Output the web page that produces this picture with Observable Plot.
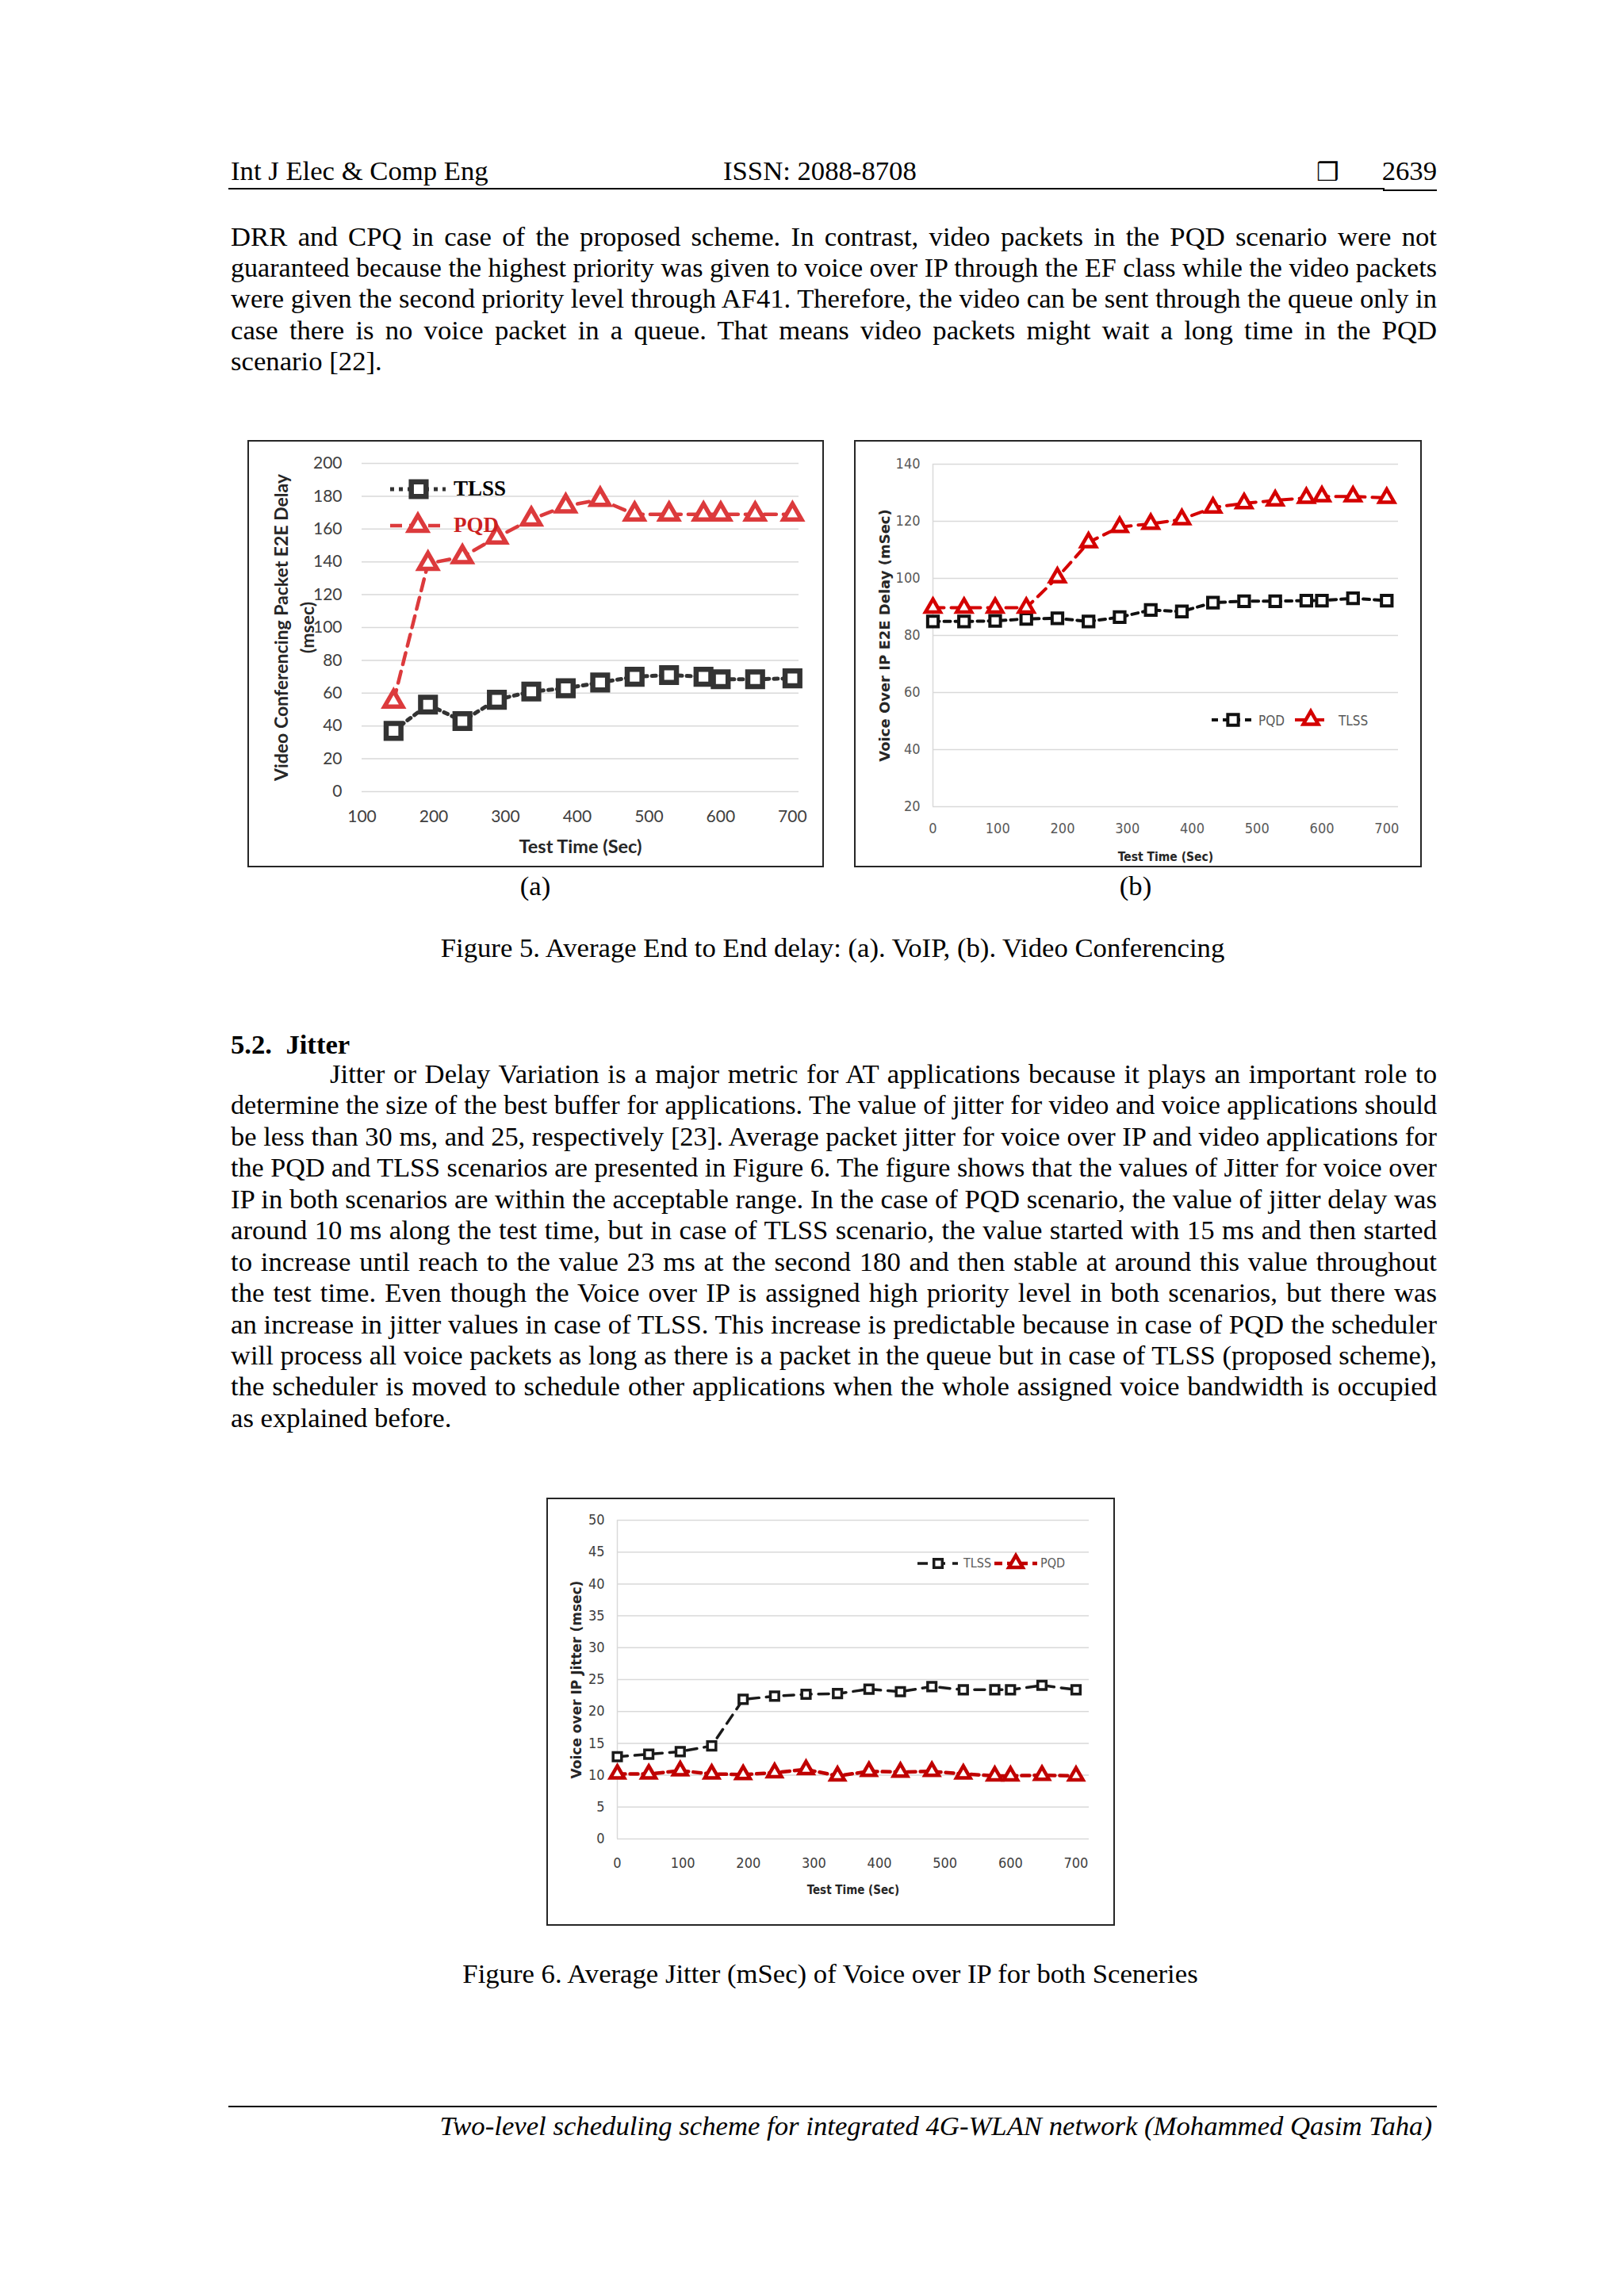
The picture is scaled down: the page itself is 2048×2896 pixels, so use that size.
<!DOCTYPE html>
<html>
<head>
<meta charset="utf-8">
<script src="https://cdn.jsdelivr.net/npm/d3@7"></script>
<script src="https://cdn.jsdelivr.net/npm/@observablehq/plot@0.6"></script>
<style>
  html, body { margin: 0; padding: 0; background: #ffffff; }
  #page { position: relative; width: 2048px; height: 2896px; background: #ffffff; overflow: hidden; }
  .box { position: absolute; box-sizing: border-box; border: 2.5px solid #262626; }
</style>
</head>
<body>
<div id="page"></div>
<script>
// ---------------- DATA ----------------
// Figure 5 (a): Video conferencing packet E2E delay (msec)
const timeA = [144, 192, 240, 288, 336, 384, 432, 480, 528, 576, 600, 648, 700];
const tlssA = [37, 53, 43, 56, 61, 63, 66.5, 70, 71, 70, 68.5, 68.5, 69];
const pqdA  = [55, 139, 143, 155, 166, 174, 178, 169, 169, 169, 169, 169, 169];
const xTicksA = [100, 200, 300, 400, 500, 600, 700];
const yTicksA = [0, 20, 40, 60, 80, 100, 120, 140, 160, 180, 200];

// Figure 5 (b): Voice over IP E2E delay (mSec)
const timeB = [0, 48, 96, 144, 192, 240, 288, 336, 384, 432, 480, 528, 576, 600, 648, 700];
const pqdB  = [84.9, 84.9, 85.1, 85.8, 86, 84.9, 86.4, 88.9, 88.4, 91.5, 92, 92, 92.2, 92.2, 93, 92.2];
const tlssB = [89.7, 89.7, 89.7, 89.7, 100.3, 112.6, 118, 119.1, 120.7, 124.8, 126.3, 127.3, 128.2, 128.7, 128.7, 128.2];
const xTicksB = [0, 100, 200, 300, 400, 500, 600, 700];
const yTicksB = [20, 40, 60, 80, 100, 120, 140];

// Figure 6: Voice over IP jitter (msec)
const time6 = [0, 48, 96, 144, 192, 240, 288, 336, 384, 432, 480, 528, 576, 600, 648, 700];
const tlss6 = [12.9, 13.3, 13.7, 14.6, 21.9, 22.4, 22.7, 22.8, 23.5, 23.1, 23.9, 23.4, 23.4, 23.4, 24.1, 23.4];
const pqd6  = [10.2, 10.2, 10.7, 10.2, 10.1, 10.4, 10.9, 9.9, 10.6, 10.5, 10.6, 10.2, 9.9, 9.9, 10.0, 9.9];
const xTicks6 = [0, 100, 200, 300, 400, 500, 600, 700];
const yTicks6 = [0, 5, 10, 15, 20, 25, 30, 35, 40, 45, 50];

// ---------------- TEXT ----------------
const headerLeft = "Int J Elec & Comp Eng";
const headerMid = "ISSN: 2088-8708";
const headerPage = "2639";
const para1 = [
  "DRR and CPQ in case of the proposed scheme. In contrast, video packets in the PQD scenario were not",
  "guaranteed because the highest priority was given to voice over IP through the EF class while the video packets",
  "were given the second priority level through AF41. Therefore, the video can be sent through the queue only in",
  "case there is no voice packet in a queue. That means video packets might wait a long time in the PQD",
  "scenario [22]."
];
const fig5Caption = "Figure 5. Average End to End delay: (a). VoIP, (b). Video Conferencing";
const heading = "5.2.  Jitter";
const para2 = [
  "Jitter or Delay Variation is a major metric for AT applications because it plays an important role to",
  "determine the size of the best buffer for applications. The value of jitter for video and voice applications should",
  "be less than 30 ms, and 25, respectively [23]. Average packet jitter for voice over IP and video applications for",
  "the PQD and TLSS scenarios are presented in Figure 6. The figure shows that the values of Jitter for voice over",
  "IP in both scenarios are within the acceptable range. In the case of PQD scenario, the value of jitter delay was",
  "around 10 ms along the test time, but in case of TLSS scenario, the value started with 15 ms and then started",
  "to increase until reach to the value 23 ms at the second 180 and then stable at around this value throughout",
  "the test time. Even though the Voice over IP is assigned high priority level in both scenarios, but there was",
  "an increase in jitter values in case of TLSS. This increase is predictable because in case of PQD the scheduler",
  "will process all voice packets as long as there is a packet in the queue but in case of TLSS (proposed scheme),",
  "the scheduler is moved to schedule other applications when the whole assigned voice bandwidth is occupied",
  "as explained before."
];
const fig6Caption = "Figure 6. Average Jitter (mSec) of Voice over IP for both Sceneries";
const footer = "Two-level scheduling scheme for integrated 4G-WLAN network (Mohammed Qasim Taha)";

// ---------------- HELPERS ----------------
const page = document.getElementById("page");
const SERIF = '"Liberation Serif", "Times New Roman", serif';
const NARROW = '"Liberation Sans Narrow", "Arial Narrow", "DejaVu Sans Condensed", "Roboto Condensed", sans-serif';
const FS = 34.7;

function addText(s, o) {
  const d = document.createElement("div");
  d.textContent = s;
  const size = o.size || FS;
  const asc = o.asc ?? 0.8375;
  Object.assign(d.style, {
    position: "absolute", whiteSpace: "pre",
    fontFamily: o.family || SERIF, fontSize: size + "px", lineHeight: size + "px",
    fontWeight: o.weight || "normal", fontStyle: o.italic ? "italic" : "normal",
    color: o.color || "#000", top: (o.baseline - asc * size) + "px", left: "0px"
  });
  page.appendChild(d);
  const w = d.getBoundingClientRect().width;
  if (o.align === "center") d.style.left = (o.x - w / 2) + "px";
  else if (o.align === "right") d.style.left = (o.x - w) + "px";
  else d.style.left = o.x + "px";
  if (o.fit) {
    if (w > o.fit) {
      d.style.transformOrigin = "0 50%";
      d.style.transform = `scaleX(${o.fit / w})`;
    } else if (o.justify) {
      const n = (s.match(/ /g) || []).length;
      if (n) d.style.wordSpacing = ((o.fit - w) / n) + "px";
    }
  }
  return d;
}
function addRule(x1, x2, y, t) {
  const d = document.createElement("div");
  Object.assign(d.style, {position: "absolute", left: x1 + "px", top: (y - t / 2) + "px",
    width: (x2 - x1) + "px", height: t + "px", background: "#000"});
  page.appendChild(d);
}
function addBox(x, y, w, h) {
  const d = document.createElement("div");
  d.className = "box";
  Object.assign(d.style, {left: x + "px", top: y + "px", width: w + "px", height: h + "px"});
  page.appendChild(d);
}
function place(svg, x, y) {
  svg.style.position = "absolute";
  svg.style.left = x + "px";
  svg.style.top = y + "px";
  page.appendChild(svg);
}
// legend sample: line + symbol
function legendSample(x1, x2, y, mx, color, dash, lw, sym, r, sw) {
  const pad = 20;
  const svg = d3.create("svg")
    .attr("width", x2 - x1 + 2 * pad).attr("height", 2 * pad + 20)
    .style("position", "absolute").style("left", (x1 - pad) + "px").style("top", (y - pad - 10) + "px")
    .style("overflow", "visible");
  const g = svg.append("g").attr("transform", `translate(${pad - x1},${pad + 10 - y})`);
  g.append("line").attr("x1", x1).attr("x2", x2).attr("y1", y).attr("y2", y)
    .attr("stroke", color).attr("stroke-width", lw).attr("stroke-dasharray", dash);
  g.append("path").attr("d", d3.symbol(sym === "square" ? d3.symbolSquare : d3.symbolTriangle, Math.PI * r * r)())
    .attr("transform", `translate(${mx},${y})`).attr("fill", "#fff").attr("stroke", color).attr("stroke-width", sw);
  page.appendChild(svg.node());
}

// ---------------- PAGE TEXT ----------------
const LEFT = 291, RIGHT = 1812, W = RIGHT - LEFT;
addText(headerLeft, {x: LEFT, baseline: 228});
addText(headerMid, {x: 912, baseline: 228});
addText("\u2752", {x: 1660, baseline: 228, size: 32, family: '"DejaVu Sans", sans-serif', asc: 0.85, weight: "bold"});
addText(headerPage, {x: RIGHT, baseline: 228, align: "right"});
addRule(288, 1746, 238, 2);
addRule(1744, 1812, 240, 2);

para1.forEach((s, i) => {
  const last = i === para1.length - 1;
  addText(s, {x: LEFT, baseline: 311 + i * 39.2, fit: last ? null : W, justify: !last});
});

addText("(a)", {x: 675, baseline: 1130, align: "center"});
addText("(b)", {x: 1432, baseline: 1130, align: "center"});
addText(fig5Caption, {x: 1050, baseline: 1208, align: "center"});

addText(heading, {x: LEFT, baseline: 1330, weight: "bold"});
para2.forEach((s, i) => {
  const last = i === para2.length - 1;
  const x = i === 0 ? 416 : LEFT;
  addText(s, {x, baseline: 1367 + i * 39.45, fit: last ? null : RIGHT - x, justify: !last});
});

addText(fig6Caption, {x: 1047, baseline: 2502, align: "center"});
addRule(288, 1812, 2657, 2.5);
addText(footer, {x: 1806, baseline: 2694, italic: true, align: "right"});

// ---------------- CHART (a) ----------------
const dataA = timeA.map((t, i) => ({t, tlss: tlssA[i], pqd: pqdA[i]}));
const boxA = {x: 312, y: 555, w: 727, h: 539};
const LATO = 'Lato, "Open Sans", sans-serif';
const redA = "#dc3a3c", grayA = "#333333";
const chartA = Plot.plot({
  width: boxA.w, height: boxA.h,
  marginLeft: 144, marginRight: 32, marginTop: 29, marginBottom: 96,
  x: {domain: [100, 709]},
  y: {domain: [0, 200]},
  style: {background: "transparent", fontFamily: LATO, overflow: "visible"},
  marks: [
    Plot.gridY(yTicksA, {stroke: "#d9d9d9", strokeOpacity: 1, strokeWidth: 1.5}),
    Plot.axisY(yTicksA, {tickSize: 0, tickPadding: 25, fontSize: 21, fill: "#404040", label: null}),
    Plot.axisX(xTicksA, {tickSize: 0, tickPadding: 32, lineAnchor: "middle", fontSize: 21, fill: "#404040", label: null}),
    Plot.text(["Video Conferencing Packet E2E Delay\n(msec)"], {frameAnchor: "left", dx: -88, rotate: -90,
      textAnchor: "middle", lineAnchor: "middle", lineHeight: 1.45, fontSize: 23, fontWeight: "bold", fill: "#262626"}),
    Plot.text(["Test Time (Sec)"], {frameAnchor: "bottom", dy: 70, lineAnchor: "middle",
      fontSize: 23.5, fontWeight: "bold", fill: "#262626"}),
    Plot.line(dataA, {x: "t", y: "pqd", stroke: redA, strokeWidth: 4.5, strokeDasharray: "15,9"}),
    Plot.line(dataA, {x: "t", y: "tlss", stroke: grayA, strokeWidth: 5, strokeDasharray: "5,6"}),
    Plot.dot(dataA, {x: "t", y: "pqd", symbol: "triangle", r: 8.5, stroke: redA, strokeWidth: 5.5, fill: "#fff"}),
    Plot.dot(dataA, {x: "t", y: "tlss", symbol: "square", r: 10.5, stroke: grayA, strokeWidth: 6.5, fill: "#fff"})
  ]
});
place(chartA, boxA.x, boxA.y);
addBox(boxA.x, boxA.y, boxA.w, boxA.h);
legendSample(492, 562, 617, 528, grayA, "5,6", 5, "square", 10.5, 6.5);
addText("TLSS", {x: 572, baseline: 626, size: 27, weight: "bold"});
legendSample(492, 562, 663, 527, redA, "15,9", 4.5, "triangle", 8.5, 5.5);
addText("PQD", {x: 572, baseline: 672, size: 27, weight: "bold", color: "#cc1f1f"});

// ---------------- CHART (b) ----------------
const dataB = timeB.map((t, i) => ({t, pqd: pqdB[i], tlss: tlssB[i]}));
const boxB = {x: 1077, y: 555, w: 716, h: 539};
const redB = "#d40000", blackB = "#111111";
const chartB = Plot.plot({
  width: boxB.w, height: boxB.h,
  marginLeft: 99, marginRight: 30, marginTop: 30, marginBottom: 77,
  x: {domain: [0, 718]},
  y: {domain: [20, 140]},
  style: {background: "transparent", fontFamily: NARROW, overflow: "visible"},
  marks: [
    Plot.gridY(yTicksB, {stroke: "#d9d9d9", strokeOpacity: 1, strokeWidth: 1.5}),
    Plot.ruleX([0], {stroke: "#d9d9d9", strokeWidth: 1.5}),
    Plot.axisY(yTicksB, {tickSize: 0, tickPadding: 16, fontSize: 18, fill: "#595959", label: null}),
    Plot.axisX(xTicksB, {tickSize: 0, tickPadding: 28, lineAnchor: "middle", fontSize: 18, fill: "#595959", label: null}),
    Plot.text(["Voice Over IP E2E Delay (mSec)"], {frameAnchor: "left", dx: -60, rotate: -90,
      textAnchor: "middle", lineAnchor: "middle", fontSize: 18, fontWeight: "bold", fill: "#262626",
      fontFamily: '"DejaVu Sans", sans-serif'}),
    Plot.text(["Test Time (Sec)"], {frameAnchor: "bottom", dy: 64, lineAnchor: "middle",
      fontSize: 15.5, fontWeight: "bold", fill: "#262626"}),
    Plot.line(dataB, {x: "t", y: "pqd", stroke: blackB, strokeWidth: 4, strokeDasharray: "8,6"}),
    Plot.line(dataB, {x: "t", y: "tlss", stroke: redB, strokeWidth: 4, strokeDasharray: "14,9"}),
    Plot.dot(dataB, {x: "t", y: "pqd", symbol: "square", r: 7.5, stroke: blackB, strokeWidth: 4, fill: "#fff"}),
    Plot.dot(dataB, {x: "t", y: "tlss", symbol: "triangle", r: 7, stroke: redB, strokeWidth: 4.5, fill: "#fff"})
  ]
});
place(chartB, boxB.x, boxB.y);
addBox(boxB.x, boxB.y, boxB.w, boxB.h);
legendSample(1528, 1582, 908, 1555, blackB, "8,6", 4, "square", 7.5, 4);
addText("PQD", {x: 1587, baseline: 915, size: 17, family: NARROW, color: "#595959", asc: 0.8465});
legendSample(1633, 1674, 908, 1653, redB, "14,9", 4, "triangle", 7, 4.5);
addText("TLSS", {x: 1688, baseline: 915, size: 17, family: NARROW, color: "#595959", asc: 0.8465});

// ---------------- FIGURE 6 ----------------
const data6 = time6.map((t, i) => ({t, tlss: tlss6[i], pqd: pqd6[i]}));
const box6 = {x: 689, y: 1889, w: 717, h: 540};
const red6 = "#c00000", black6 = "#1a1a1a";
const chart6 = Plot.plot({
  width: box6.w, height: box6.h,
  marginLeft: 89, marginRight: 33, marginTop: 28, marginBottom: 110,
  x: {domain: [0, 720]},
  y: {domain: [0, 50]},
  style: {background: "transparent", fontFamily: NARROW, overflow: "visible"},
  marks: [
    Plot.gridY(yTicks6, {stroke: "#d9d9d9", strokeOpacity: 1, strokeWidth: 1.5}),
    Plot.ruleX([0], {stroke: "#d9d9d9", strokeWidth: 1.5}),
    Plot.axisY(yTicks6, {tickSize: 0, tickPadding: 16, fontSize: 18, fill: "#404040", label: null}),
    Plot.axisX(xTicks6, {tickSize: 0, tickPadding: 31, lineAnchor: "middle", fontSize: 18, fill: "#404040", label: null}),
    Plot.text(["Voice over IP Jitter (msec)"], {frameAnchor: "left", dx: -51, rotate: -90,
      textAnchor: "middle", lineAnchor: "middle", fontSize: 17, fontWeight: "bold", fill: "#262626",
      fontFamily: '"DejaVu Sans", sans-serif'}),
    Plot.text(["Test Time (Sec)"], {frameAnchor: "bottom", dy: 65, lineAnchor: "middle",
      fontSize: 15, fontWeight: "bold", fill: "#262626"}),
    Plot.line(data6, {x: "t", y: "tlss", stroke: black6, strokeWidth: 3.5, strokeDasharray: "13,9"}),
    Plot.line(data6, {x: "t", y: "pqd", stroke: red6, strokeWidth: 4.5, strokeDasharray: "10,6"}),
    Plot.dot(data6, {x: "t", y: "tlss", symbol: "square", r: 6, stroke: black6, strokeWidth: 3.5, fill: "#fff"}),
    Plot.dot(data6, {x: "t", y: "pqd", symbol: "triangle", r: 6.5, stroke: red6, strokeWidth: 4.5, fill: "#fff"})
  ]
});
place(chart6, box6.x, box6.y);
addBox(box6.x, box6.y, box6.w, box6.h);
legendSample(1157, 1208, 1972, 1183, black6, "13,9", 3.5, "square", 6, 3.5);
addText("TLSS", {x: 1215, baseline: 1978, size: 16, family: NARROW, color: "#595959", asc: 0.8465});
legendSample(1254, 1308, 1972, 1281, red6, "10,6", 4.5, "triangle", 6.5, 4.5);
addText("PQD", {x: 1312, baseline: 1978, size: 16, family: NARROW, color: "#595959", asc: 0.8465});
</script>
</body>
</html>
